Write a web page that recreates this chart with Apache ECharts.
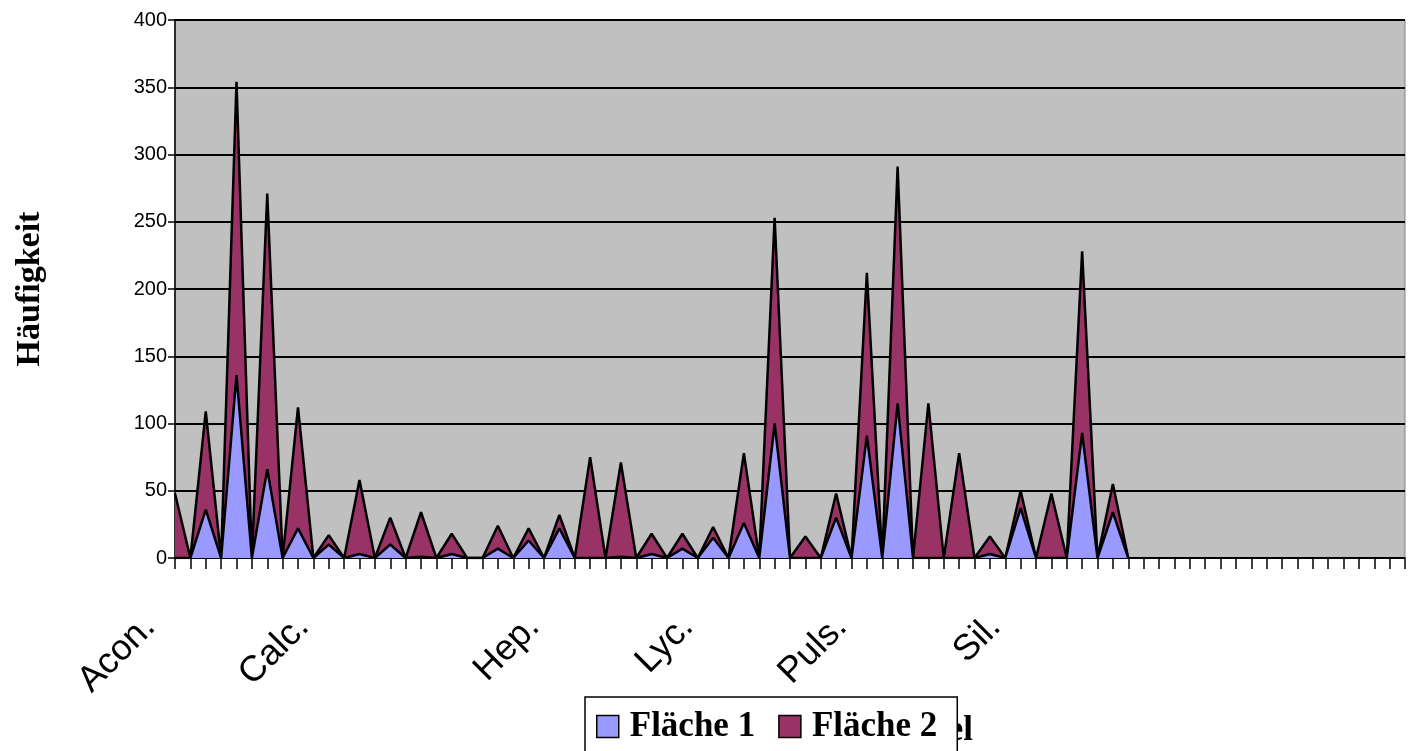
<!DOCTYPE html>
<html>
<head>
<meta charset="utf-8">
<script src="https://cdn.jsdelivr.net/npm/echarts@6/dist/echarts.min.js"></script>
<style>
html,body{margin:0;padding:0;background:#fff;}
#chart{width:1412px;height:751px;}
</style>
</head>
<body>
<div id="chart"></div>
<script>
// Category labels (81 category slots, only some are named)
const labelNames = { 0: 'Acon.', 10: 'Calc.', 25: 'Hep.', 35: 'Lyc.', 45: 'Puls.', 55: 'Sil.' };
const categoryCount = 81;
const categories = [];
for (let i = 0; i < categoryCount; i++) categories.push(labelNames[i] || '');

// Series values
const flaeche1 = [0,0,36,0,136,0,66,0,22,0,10,0,3,0,10,0,1,0,3,0,0,7,0,13,0,22,0,0,0,1,0,3,0,7,0,15,0,26,0,100,0,0,0,30,0,91,0,115,0,0,0,0,0,3,0,37,0,0,0,93,0,34,0];
const flaeche2 = [48,0,73,0,218,0,205,0,90,0,7,0,55,0,20,0,33,0,15,0,0,17,0,9,0,10,0,75,0,70,0,15,0,11,0,8,0,52,0,153,0,16,0,18,0,121,0,176,0,115,0,78,0,13,0,13,0,48,0,135,0,21,0];

const yTicks = { min: 0, max: 400, interval: 50 };

const chart = echarts.init(document.getElementById('chart'));
chart.setOption({
  animation: false,
  backgroundColor: '#ffffff',
  grid: {
    left: 175, right: 7, top: 20, bottom: 193,
    show: true, backgroundColor: '#C0C0C0', borderColor: '#808080', borderWidth: 1
  },
  legend: {
    left: 585, top: 697,
    padding: [12, 20, 40, 11],
    itemWidth: 22, itemHeight: 22, itemGap: 23,
    icon: 'rect',
    backgroundColor: '#ffffff',
    borderColor: '#000', borderWidth: 1.5,
    itemStyle: { borderColor: '#000', borderWidth: 1.5 },
    textStyle: { fontFamily: 'Liberation Serif', fontWeight: 'bold', fontSize: 35, color: '#000', padding: [0, 0, 0, 6] },
    z: 10,
    data: ['Fläche 1', 'Fläche 2']
  },
  graphic: [{
    type: 'text', z: 1,
    style: {
      text: 'Mittel', x: 973, y: 731, textAlign: 'right', textVerticalAlign: 'middle',
      fontFamily: 'Liberation Serif', fontWeight: 'bold', fontSize: 35, fill: '#000'
    }
  }],
  xAxis: {
    type: 'category',
    data: categories,
    boundaryGap: false,
    axisLine: { lineStyle: { color: '#000', width: 1.5 } },
    axisTick: { show: true, interval: 0, length: 11, lineStyle: { color: '#000', width: 1.5 } },
    axisLabel: {
      interval: 0, rotate: 45, margin: 38, padding: [0, 36, 0, 0],
      fontFamily: 'Liberation Sans', fontSize: 36, color: '#000'
    },
    splitLine: { show: false }
  },
  yAxis: {
    type: 'value',
    min: yTicks.min, max: yTicks.max, interval: yTicks.interval,
    name: 'Häufigkeit', nameLocation: 'middle', nameRotate: 90, nameGap: 128,
    nameTextStyle: { fontFamily: 'Liberation Serif', fontWeight: 'bold', fontSize: 34, color: '#000' },
    axisLine: { show: true, lineStyle: { color: '#000', width: 1.5 } },
    axisTick: { show: true, length: 7, lineStyle: { color: '#000', width: 1.5 } },
    axisLabel: { margin: 8, fontFamily: 'Liberation Sans', fontSize: 20, color: '#000' },
    splitLine: { show: true, lineStyle: { color: '#000', width: 2 } }
  },
  series: [
    {
      name: 'Fläche 1', type: 'line', stack: 'total', data: flaeche1,
      symbol: 'none', z: 3,
      itemStyle: { color: '#9999FF' },
      lineStyle: { color: '#000', width: 2.5 },
      areaStyle: { color: '#9999FF', opacity: 1 }
    },
    {
      name: 'Fläche 2', type: 'line', stack: 'total', data: flaeche2,
      symbol: 'none', z: 2,
      itemStyle: { color: '#993366' },
      lineStyle: { color: '#000', width: 2.5 },
      areaStyle: { color: '#993366', opacity: 1 }
    }
  ]
});
</script>
</body>
</html>
